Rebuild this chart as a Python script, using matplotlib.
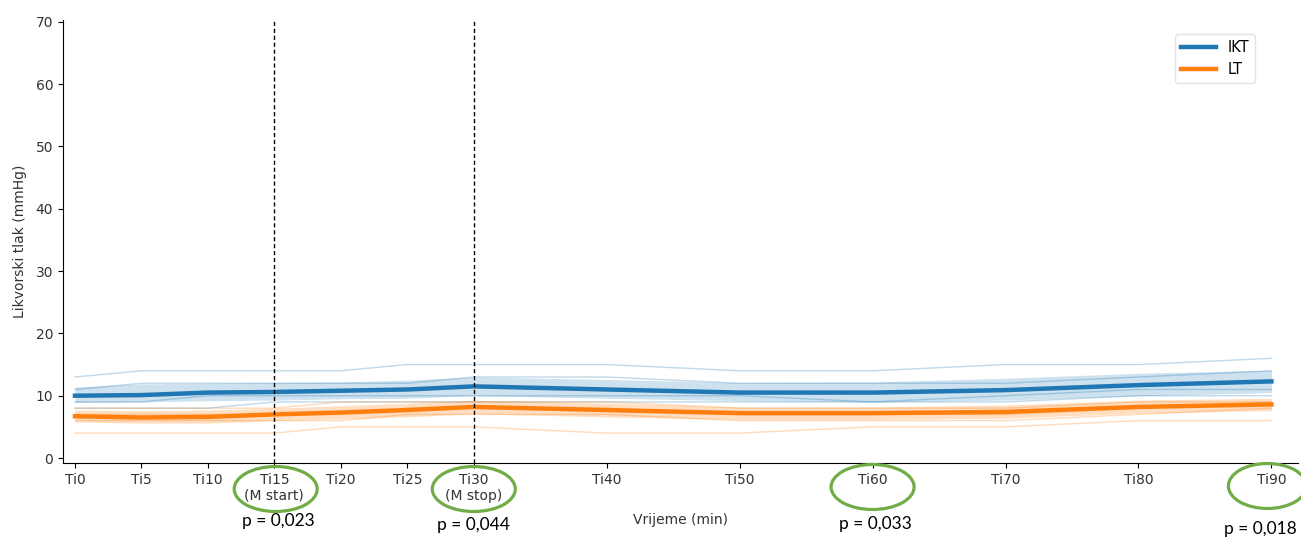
import numpy as np
import matplotlib
matplotlib.use('Agg')
from matplotlib import pyplot as plt
from matplotlib.patches import Ellipse
from matplotlib import transforms

# time points (min) and tick labels
t = [0, 5, 10, 15, 20, 25, 30, 40, 50, 60, 70, 80, 90]
tickLabels = ['Ti0', 'Ti5', 'Ti10', 'Ti15\n(M start)', 'Ti20', 'Ti25', 'Ti30\n(M stop)',
              'Ti40', 'Ti50', 'Ti60', 'Ti70', 'Ti80', 'Ti90']

# IKT group: mean, CI band, individual patients
iktMean = [10.0, 10.1, 10.5, 10.6, 10.8, 11.0, 11.5, 11.0, 10.5, 10.5, 10.9, 11.7, 12.3]
iktUpper = [11.4, 11.9, 12.0, 12.1, 12.2, 12.5, 13.0, 12.6, 12.1, 12.2, 12.8, 13.6, 14.1]
iktLower = [8.9, 9.0, 9.2, 9.3, 9.5, 9.6, 10.0, 9.6, 9.2, 9.0, 9.3, 10.0, 10.5]
iktPatients = [
    [13, 14, 14, 14, 14, 15, 15, 15, 14, 14, 15, 15, 16],
    [11, 12, 12, 12, 12, 12, 13, 13, 12, 12, 12, 13, 14],
    [9, 9, 10, 10, 10, 10, 10, 10, 10, 9, 10, 11, 11],
    [8, 8, 8, 9, 9, 9, 9, 9, 9, 9, 9, 10, 10],
]

# LT group
ltMean = [6.7, 6.5, 6.6, 7.0, 7.3, 7.7, 8.2, 7.7, 7.2, 7.2, 7.4, 8.2, 8.6]
ltUpper = [7.7, 7.6, 7.7, 8.0, 8.4, 8.8, 9.3, 8.8, 8.2, 8.2, 8.5, 9.3, 9.6]
ltLower = [5.8, 5.6, 5.6, 6.0, 6.3, 6.6, 7.1, 6.6, 6.2, 6.2, 6.4, 7.2, 7.6]
ltPatients = [
    [8, 8, 8, 8, 9, 9, 9, 9, 8, 8, 8, 9, 9],
    [7, 7, 7, 7, 7, 8, 8, 8, 7, 7, 7, 8, 9],
    [6, 6, 6, 6, 6, 7, 7, 7, 6, 6, 6, 7, 8],
    [4, 4, 4, 4, 5, 5, 5, 4, 4, 5, 5, 6, 6],
]

# significant time points with p values
sigTimes = [15, 30, 60, 90]
pTexts = ['p = 0,023', 'p = 0,044', 'p = 0,033', 'p = 0,018']
pTextX = [15.3, 30.0, 60.2, 89.2]
pTextY = [521, 525, 524, 529]   # pixel rows from top
ellipseX = [15.1, 30.0, 60.0, 89.7]
ellipseY = [489, 489, 487, 486]
ellipseW = [83, 83, 83, 78]

blue = '#1f77b4'
orange = '#ff7f0e'

W, H = 1301, 537
fig = plt.figure(figsize=(W / 100, H / 100), dpi=100)
ax = fig.add_axes([63 / W, 1 - 463 / H, (1298 - 63) / W, (463 - 20) / H])

for p in iktPatients:
    ax.plot(t, p, color=blue, lw=1, alpha=0.28)
for p in ltPatients:
    ax.plot(t, p, color=orange, lw=1, alpha=0.28)

ax.fill_between(t, iktLower, iktUpper, color=blue, alpha=0.22, lw=0)
ax.fill_between(t, ltLower, ltUpper, color=orange, alpha=0.25, lw=0)
ax.plot(t, iktMean, color=blue, lw=3.2, label='IKT')
ax.plot(t, ltMean, color=orange, lw=3.2, label='LT')

ax.axvline(15, color='black', lw=1, dashes=(3, 2))
ax.axvline(30, color='black', lw=1, dashes=(3, 2))

ax.set_xlim(-0.9, 92)
ax.set_ylim(-0.8, 70.3)
ax.set_yticks(range(0, 71, 10))
ax.set_xticks(t)
ax.set_xticklabels(tickLabels, fontsize=10, color='#333333')
ax.tick_params(axis='y', labelsize=10, labelcolor='#333333')
ax.set_ylabel('Likvorski tlak (mmHg)', fontsize=10, color='#333333', labelpad=6)
ax.set_xlabel('Vrijeme (min)', fontsize=10, color='#333333', labelpad=7)
ax.spines['top'].set_visible(False)
ax.spines['right'].set_visible(False)

leg = ax.legend(loc='upper right', bbox_to_anchor=(0.971, 0.985), fontsize=10.5,
                handlelength=2.4)
leg.get_frame().set_edgecolor('#dddddd')

# green ellipses and p values below the axis
trans = transforms.blended_transform_factory(ax.transData, fig.transFigure)
pxPerMin = ax.get_window_extent().width / (92 + 0.9)
for x, y, w in zip(ellipseX, ellipseY, ellipseW):
    e = Ellipse((x, 1 - y / H), w / pxPerMin, 45 / H, transform=trans,
                fill=False, edgecolor='#70ad47', lw=2.3, clip_on=False)
    fig.add_artist(e)
for x, y, s in zip(pTextX, pTextY, pTexts):
    fig.text(x, 1 - y / H, s, transform=trans, ha='center', va='center',
             fontsize=12.5, family='Lato', color='black')

plt.savefig('out.png', dpi=100)
